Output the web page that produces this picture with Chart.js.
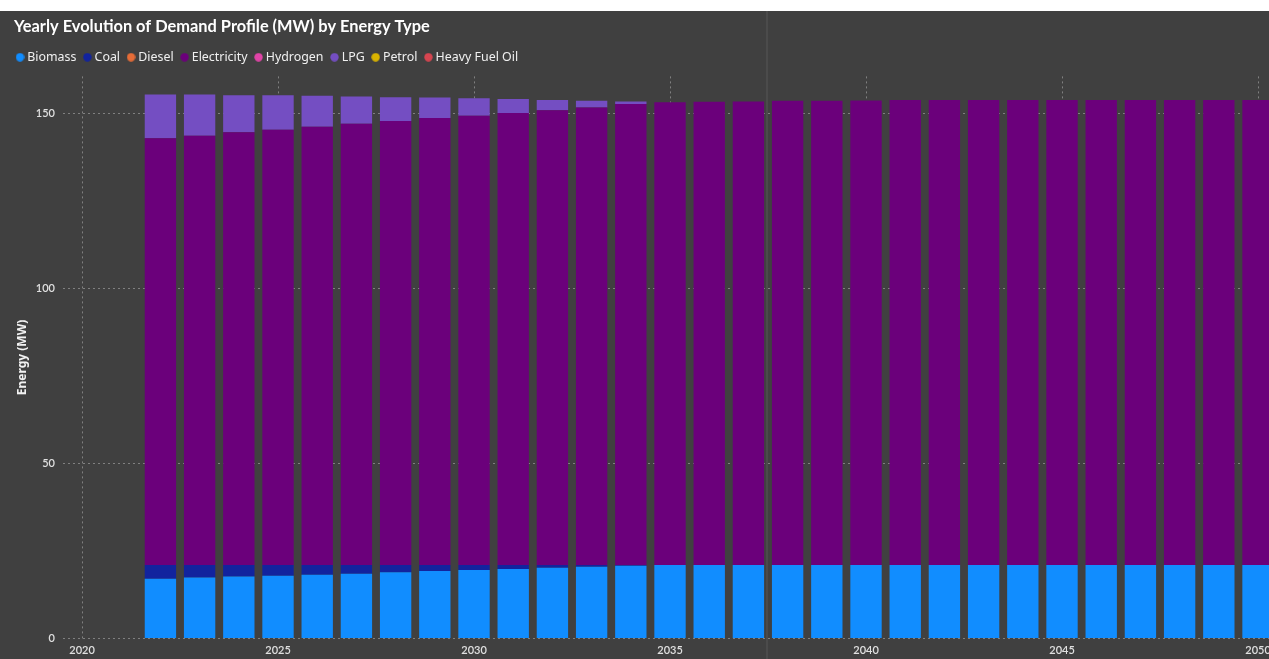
<!DOCTYPE html>
<html>
<head>
<meta charset="utf-8">
<title>Yearly Evolution of Demand Profile (MW) by Energy Type</title>
<script src="https://cdn.jsdelivr.net/npm/chart.js@4.4.1/dist/chart.umd.min.js"></script>
<style>
  html, body { margin: 0; padding: 0; background: #ffffff; overflow: hidden; width: 1269px; height: 659px; }
  #panel { position: absolute; left: 0; top: 11px; width: 1269px; height: 648px; background: #404040; overflow: hidden; }
  #demand { position: absolute; left: 0; top: 0; }
</style>
</head>
<body>
<div id="panel"><canvas id="demand" width="1300" height="648"></canvas></div>
<script>
// Demand per energy type (MW), one value per year
const years = [2022, 2023, 2024, 2025, 2026, 2027, 2028, 2029, 2030, 2031, 2032, 2033, 2034, 2035,
               2036, 2037, 2038, 2039, 2040, 2041, 2042, 2043, 2044, 2045, 2046, 2047, 2048, 2049, 2050];

const biomass     = [17.1, 17.4, 17.7, 17.9, 18.2, 18.5, 18.9, 19.3, 19.6, 19.9, 20.2, 20.5, 20.8, 21.0,
                     21.0, 21.0, 21.0, 21.0, 21.0, 21.0, 21.0, 21.0, 21.0, 21.0, 21.0, 21.0, 21.0, 21.0, 21.0];
const coal        = [3.9, 3.6, 3.3, 3.1, 2.8, 2.5, 2.1, 1.7, 1.4, 1.1, 0.8, 0.5, 0.2, 0,
                     0, 0, 0, 0, 0, 0, 0, 0, 0, 0, 0, 0, 0, 0, 0];
const diesel      = [0, 0, 0, 0, 0, 0, 0, 0, 0, 0, 0, 0, 0, 0, 0, 0, 0, 0, 0, 0, 0, 0, 0, 0, 0, 0, 0, 0, 0];
const electricity = [122.0, 122.7, 123.7, 124.4, 125.3, 126.1, 126.9, 127.8, 128.4, 129.2, 130.0, 130.8, 131.8, 132.3,
                     132.4, 132.5, 132.7, 132.7, 132.8, 132.9, 132.9, 132.9, 132.9, 132.9, 132.9, 132.9, 132.9, 132.9, 132.9];
const hydrogen    = [0, 0, 0, 0, 0, 0, 0, 0, 0, 0, 0, 0, 0, 0, 0, 0, 0, 0, 0, 0, 0, 0, 0, 0, 0, 0, 0, 0, 0];
const lpg         = [12.5, 11.8, 10.6, 9.9, 8.8, 7.8, 6.8, 5.8, 5.0, 4.0, 2.9, 1.9, 0.7, 0,
                     0, 0, 0, 0, 0, 0, 0, 0, 0, 0, 0, 0, 0, 0, 0];
const petrol      = [0, 0, 0, 0, 0, 0, 0, 0, 0, 0, 0, 0, 0, 0, 0, 0, 0, 0, 0, 0, 0, 0, 0, 0, 0, 0, 0, 0, 0];
const heavyFuelOil = [0, 0, 0, 0, 0, 0, 0, 0, 0, 0, 0, 0, 0, 0, 0, 0, 0, 0, 0, 0, 0, 0, 0, 0, 0, 0, 0, 0, 0];

const xTicks = [2020, 2025, 2030, 2035, 2040, 2045, 2050];
const yTicks = [0, 50, 100, 150];

const series = [
  { label: 'Biomass',        values: biomass,      color: '#118DFF' },
  { label: 'Coal',           values: coal,         color: '#12239E' },
  { label: 'Diesel',         values: diesel,       color: '#E66C37' },
  { label: 'Electricity',    values: electricity,  color: '#6B007B' },
  { label: 'Hydrogen',       values: hydrogen,     color: '#E044A7' },
  { label: 'LPG',            values: lpg,          color: '#744EC2' },
  { label: 'Petrol',         values: petrol,       color: '#D9B300' },
  { label: 'Heavy Fuel Oil', values: heavyFuelOil, color: '#D64550' }
];

// round legend markers
function makeDot(color) {
  const c = document.createElement('canvas');
  c.width = 9; c.height = 9;
  const g = c.getContext('2d');
  g.fillStyle = color;
  g.beginPath();
  g.arc(4.5, 4.5, 4.2, 0, Math.PI * 2);
  g.fill();
  return c;
}
const dots = series.map(s => makeDot(s.color));

Chart.defaults.font.family = "'Lato', 'Noto Sans', sans-serif";

// small positional nudges for the title / legend and the panel divider line
const panelTweaks = {
  id: 'panelTweaks',
  afterLayout(chart) {
    if (chart.titleBlock) chart.titleBlock.left += 5;
    if (chart.legend) chart.legend.top -= 3;
  },
  beforeDatasetsDraw(chart) {
    const ctx = chart.ctx;
    ctx.save();
    ctx.strokeStyle = '#4b4b4b';
    ctx.lineWidth = 2;
    ctx.beginPath();
    ctx.moveTo(767, 0);
    ctx.lineTo(767, chart.height);
    ctx.stroke();
    ctx.restore();
  }
};

const tickFont = { size: 11, weight: '600' };

new Chart(document.getElementById('demand'), {
  type: 'bar',
  data: {
    datasets: series.map(s => ({
      label: s.label,
      data: years.map((yr, i) => ({ x: yr, y: s.values[i] })),
      backgroundColor: s.color,
      borderWidth: 0,
      categoryPercentage: 1.0,
      barPercentage: 0.8
    }))
  },
  options: {
    responsive: false,
    animation: false,
    layout: { padding: { left: 9, right: 0, top: 0, bottom: 0 } },
    plugins: {
      title: {
        display: true,
        text: 'Yearly Evolution of Demand Profile (MW) by Energy Type',
        align: 'start',
        color: '#ffffff',
        font: { size: 16.4, weight: 'bold', lineHeight: 18 / 16.4 },
        padding: { top: 7, bottom: 8 }
      },
      legend: {
        display: true,
        position: 'top',
        align: 'start',
        labels: {
          usePointStyle: true,
          boxWidth: 2,
          boxHeight: 12,
          padding: 10,
          color: '#f0f0f0',
          font: { family: "'Noto Sans', sans-serif", size: 12.4 },
          generateLabels(chart) {
            const items = Chart.defaults.plugins.legend.labels.generateLabels(chart);
            items.forEach(it => { it.pointStyle = dots[it.datasetIndex]; });
            return items;
          }
        }
      },
      tooltip: { enabled: false }
    },
    scales: {
      x: {
        type: 'linear',
        stacked: true,
        offset: false,
        min: 2019.515,
        max: 2051.071,
        afterBuildTicks: s => { s.ticks = xTicks.map(v => ({ value: v })); },
        afterFit: s => { s.height = 20.5; },
        grid: { color: '#808080', lineWidth: 1, drawTicks: false, offset: false },
        border: { display: false, dash: [2, 3] },
        ticks: {
          color: '#e0e0e0',
          font: tickFont,
          padding: 5,
          maxRotation: 0,
          autoSkip: false,
          callback: v => String(v)
        }
      },
      y: {
        stacked: true,
        min: 0,
        max: 160.66,
        afterBuildTicks: s => { s.ticks = yTicks.map(v => ({ value: v })); },
        afterFit: s => { s.width = 54; },
        grid: { color: '#808080', lineWidth: 1, drawTicks: false },
        border: { display: false, dash: [2, 3] },
        ticks: { color: '#e0e0e0', font: tickFont, padding: 8, callback: v => String(v) },
        title: {
          display: true,
          text: 'Energy (MW)',
          color: '#f2f2f2',
          font: { family: "'Noto Sans', sans-serif", size: 12, weight: 'bold' },
          padding: { top: 6, bottom: 0 }
        }
      }
    }
  },
  plugins: [panelTweaks]
});
</script>
</body>
</html>
